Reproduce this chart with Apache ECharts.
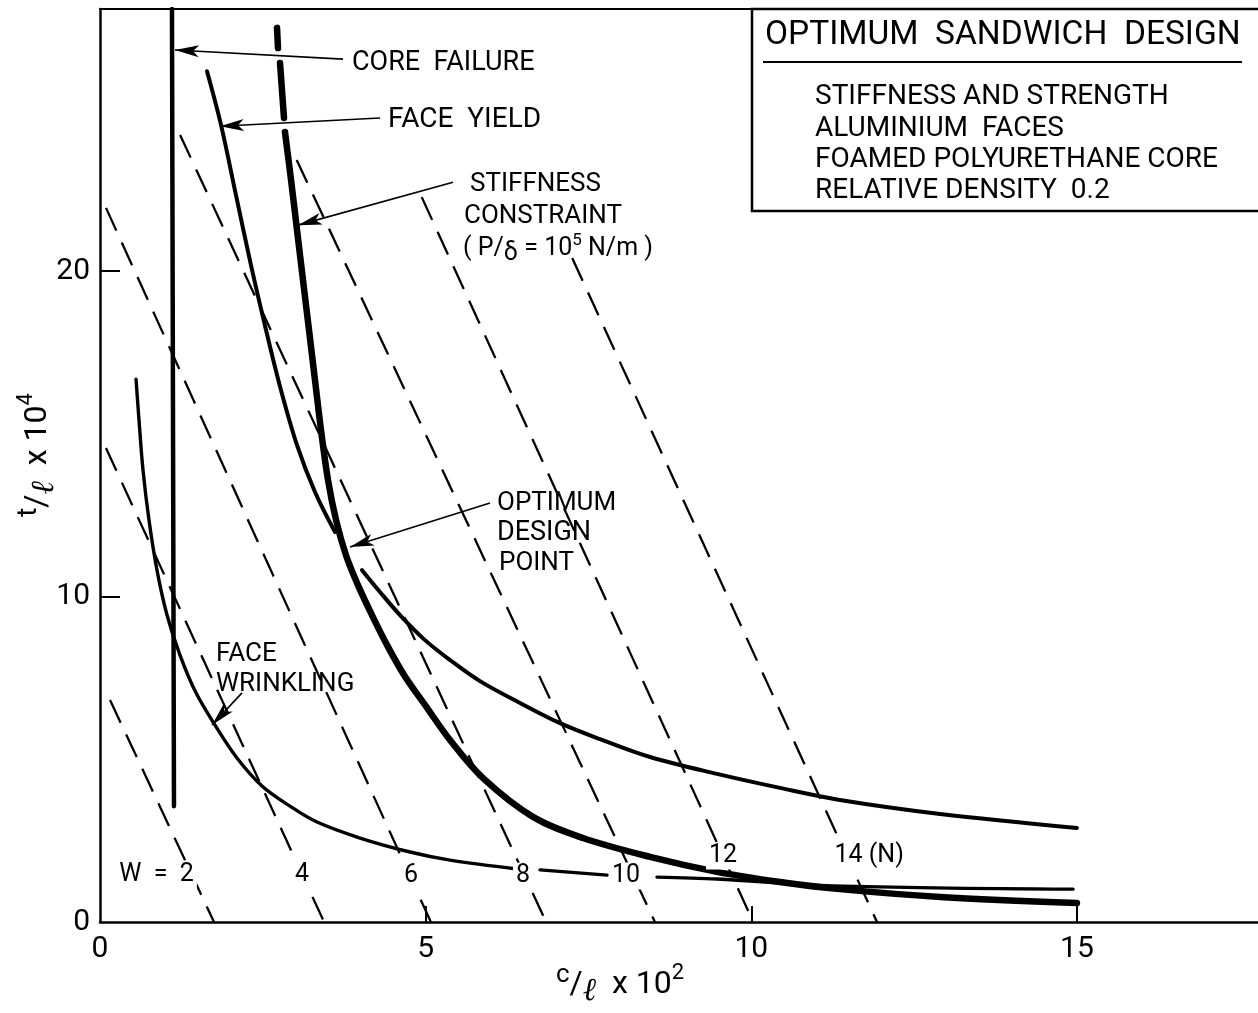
<!DOCTYPE html>
<html><head><meta charset="utf-8">
<script src="https://cdn.jsdelivr.net/npm/echarts@6/dist/echarts.min.js"></script>
<style>html,body{margin:0;padding:0;background:#fff}#c{width:1258px;height:1013px}</style>
</head><body><div id="c"></div>
<script>
// ---- data ----
const xTickLabels = [0, 5, 10, 15];
const yTickLabels = [0, 10, 20];
const xTickMarks = [5, 10, 15];
const yTickMarks = [10, 20];
const X_MAX = 17.78, Y_MAX = 28.05;

const coreFailure = [[1.105, 28.05], [1.136, 3.56]];
const faceYield = [[1.643, 26.14], [1.858, 24.49], [2.088, 22.33], [2.318, 20.18], [2.549, 18.19], [2.779, 16.34], [3.025, 14.65], [3.301, 13.21], [3.608, 11.98]];
const stiffnessTop = [[2.718, 27.47], [2.733, 26.85], '-', [2.764, 26.39], [2.825, 24.70]];
const stiffness = [[2.840, 24.27], [2.933, 22.80], [3.025, 21.26], [3.117, 19.72], [3.209, 18.19], [3.301, 16.65], [3.393, 15.12], [3.501, 13.58], [3.624, 12.35], [3.777, 11.27], [3.961, 10.35], [4.176, 9.43], [4.407, 8.51], [4.668, 7.59], [4.990, 6.67], [5.374, 5.59], [5.881, 4.42], [6.648, 3.23], [7.416, 2.58], [8.445, 2.00], [9.473, 1.54], [10.44, 1.23], [11.36, 1.01], [12.90, 0.77], [15.0, 0.58]];
const faceYieldLow = [[4.023, 10.81], [4.299, 10.14], [4.606, 9.43], [4.990, 8.66], [5.374, 8.05], [5.834, 7.40], [6.449, 6.73], [7.063, 6.11], [7.677, 5.62], [8.445, 5.07], [9.473, 4.55], [10.44, 4.12], [11.36, 3.75], [12.90, 3.32], [15.0, 2.89]];
const wrinkling = [[0.553, 16.68], [0.599, 15.42], [0.660, 13.89], [0.752, 12.35], [0.875, 10.81], [1.029, 9.43], [1.228, 8.20], [1.474, 7.04], [1.766, 6.05], [2.103, 5.04], [2.487, 4.18], [2.917, 3.56], [3.332, 3.07], [3.992, 2.58], [4.760, 2.15], [5.374, 1.90], [6.403, 1.63], '-', [6.756, 1.60], [7.785, 1.44], '-', [8.552, 1.38], [9.473, 1.32], [11.25, 1.11], [14.94, 1.01]];

const wLabels = ['W  =  2', '4', '6', '8', '10', '12', '14 (N)'];
const wStart = [[0.154, 6.82], [0.092, 14.56], [0.092, 21.94], [1.23, 24.18], [3.02, 23.41], [4.94, 22.27], [7.25, 20.40]];
const wEnd = [[1.75, 0], [3.44, 0], [5.08, 0], [6.85, 0], [8.52, 0], [10.03, 0], [11.93, 0]];
const wLabelAt = [[0.868, 1.44], [3.10, 1.44], [4.775, 1.41], [6.495, 1.41], [8.076, 1.41], [9.566, 2.03], [11.81, 2.03]];

const arrowFrom = [[3.731, 26.51], [4.299, 24.70], [5.420, 22.73], [5.988, 12.87], [2.180, 7.04]];
const arrowTo = [[1.152, 26.79], [1.842, 24.45], [3.040, 21.41], [3.839, 11.52], [1.720, 6.05]];

// ---- chart ----
const FONT = 'Roboto';
const chart = echarts.init(document.getElementById('c'), null, {renderer: 'canvas'});

const series = [];
wStart.forEach((s, i) => {
  series.push({type: 'line', data: [s, wEnd[i]], symbol: 'none', z: 2,
    lineStyle: {color: '#000', width: 2.3, type: [25, 13]}, silent: true});
});
const solid = (data, w, z) => ({type: 'line', data, symbol: 'none', smooth: 0.35, z: z || 3, silent: true,
  connectNulls: false, lineStyle: {color: '#000', width: w, cap: 'round'}});
series.push(solid(coreFailure, 4.5));
series.push(solid(faceYield, 4));
series.push(solid(faceYieldLow, 4));
series.push(solid(wrinkling, 3.4));
series.push(solid(stiffnessTop, 6.5));
series.push(solid(stiffness, 6.5));
series.push({type: 'line', data: [], z: 6, silent: true,
  markLine: {silent: true, animation: false, symbol: ['none', 'arrow'], symbolSize: [9, 24],
    label: {show: false}, lineStyle: {color: '#000', width: 1.6, type: 'solid'},
    data: arrowFrom.map((f, i) => [{coord: f, symbol: 'none'}, {coord: arrowTo[i], symbol: 'arrow'}])}});

const txt = (text, x, y, size, extra) => Object.assign({type: 'text', x, y, z: 20, silent: true,
  style: {text, fill: '#000', font: size + 'px ' + FONT, textVerticalAlign: 'middle'}}, extra || {});

const graphics = [
    {type: 'rect', shape: {x: 752, y: 9, width: 520, height: 202}, z: 15, silent: true,
      style: {fill: '#fff', stroke: '#000', lineWidth: 2.5}},
    txt('OPTIMUM  SANDWICH  DESIGN', 765, 36, 33.5),
    {type: 'line', shape: {x1: 763, y1: 62, x2: 1242, y2: 62}, z: 20, silent: true, style: {stroke: '#000', lineWidth: 2}},
    txt('STIFFNESS AND STRENGTH', 815, 97, 28),
    txt('ALUMINIUM  FACES', 815, 129, 28),
    txt('FOAMED POLYURETHANE CORE', 815, 160, 28),
    txt('RELATIVE DENSITY  0.2', 815, 191, 28),
    txt('CORE  FAILURE', 352, 63, 27),
    txt('FACE  YIELD', 388, 120, 28),
    txt('STIFFNESS', 470, 184, 26),
    txt('CONSTRAINT', 464, 216, 26),
    {type: 'text', x: 463, y: 249, z: 20, silent: true, style: {text: '{a|( P/}{d|δ}{a| = 10}{s|5}{a| N/m )}', textVerticalAlign: 'middle', fill: '#000',
      rich: {a: {fontFamily: FONT, fontSize: 25, lineHeight: 34, verticalAlign: 'middle'},
             d: {fontFamily: FONT, fontSize: 25, lineHeight: 34, verticalAlign: 'bottom'},
             s: {fontFamily: FONT, fontSize: 17, lineHeight: 34, verticalAlign: 'top'}}}},
    txt('OPTIMUM', 497, 503, 26),
    txt('DESIGN', 497, 533, 27),
    txt('POINT', 499, 563, 26),
    txt('FACE', 216, 654, 26),
    txt('WRINKLING', 216, 684, 26),
    {type: 'text', x: 556, y: 985, z: 20, silent: true, style: {text: '{c|c}{a|/}{l|ℓ}{a|  x 10}{s|2}', textVerticalAlign: 'middle', fill: '#000',
      rich: {a: {fontFamily: FONT, fontSize: 32, lineHeight: 46, verticalAlign: 'middle'},
             c: {fontFamily: FONT, fontSize: 26, lineHeight: 46, verticalAlign: 'top'},
             l: {fontFamily: 'DejaVu Serif', fontStyle: 'italic', fontSize: 32, lineHeight: 46, verticalAlign: 'bottom'},
             s: {fontFamily: FONT, fontSize: 22, lineHeight: 46, verticalAlign: 'top'}}}},
    {type: 'text', x: 38, y: 455, rotation: Math.PI / 2, z: 20, silent: true, style: {text: '{c|t}{a|/}{l|ℓ}{a|  x 10}{s|4}', textAlign: 'center', textVerticalAlign: 'middle', fill: '#000',
      rich: {a: {fontFamily: FONT, fontSize: 32, lineHeight: 46, verticalAlign: 'middle'},
             c: {fontFamily: FONT, fontSize: 28, lineHeight: 46, verticalAlign: 'top'},
             l: {fontFamily: 'DejaVu Serif', fontStyle: 'italic', fontSize: 32, lineHeight: 46, verticalAlign: 'bottom'},
             s: {fontFamily: FONT, fontSize: 22, lineHeight: 46, verticalAlign: 'top'}}}}
];

chart.setOption({
  animation: false,
  backgroundColor: '#fff',
  grid: {left: 100, top: 9, right: 0, bottom: 91},
  xAxis: [{type: 'value', min: 0, max: X_MAX, position: 'bottom',
    axisLine: {show: true, lineStyle: {color: '#000', width: 2.5}},
    axisTick: {show: true, inside: true, length: 16, customValues: xTickMarks, lineStyle: {color: '#000', width: 2}},
    axisLabel: {customValues: xTickLabels, color: '#000', fontFamily: FONT, fontSize: 30, margin: 12},
    splitLine: {show: false}},
   {type: 'value', min: 0, max: X_MAX, position: 'top',
    axisLine: {show: true, lineStyle: {color: '#000', width: 2}},
    axisTick: {show: false}, axisLabel: {show: false}, splitLine: {show: false}}],
  yAxis: {type: 'value', min: 0, max: Y_MAX,
    axisLine: {show: true, lineStyle: {color: '#000', width: 2.5}},
    axisTick: {show: true, inside: true, length: 20, customValues: yTickMarks, lineStyle: {color: '#000', width: 2}},
    axisLabel: {customValues: yTickLabels, color: '#000', fontFamily: FONT, fontSize: 30, margin: 10},
    splitLine: {show: false}},
  series
});

// W labels: positioned through the chart's own scales, white box breaks the lines beneath
wLabelAt.forEach((p, i) => {
  const px = chart.convertToPixel({xAxisIndex: 0, yAxisIndex: 0}, p);
  graphics.push({type: 'text', x: px[0], y: px[1], z: 30, silent: true,
    style: {text: wLabels[i], fill: '#000', font: '25px ' + FONT, textAlign: 'center', textVerticalAlign: 'middle',
      backgroundColor: '#fff', padding: [1, 3]}});
});
chart.setOption({graphic: graphics});
</script></body></html>
